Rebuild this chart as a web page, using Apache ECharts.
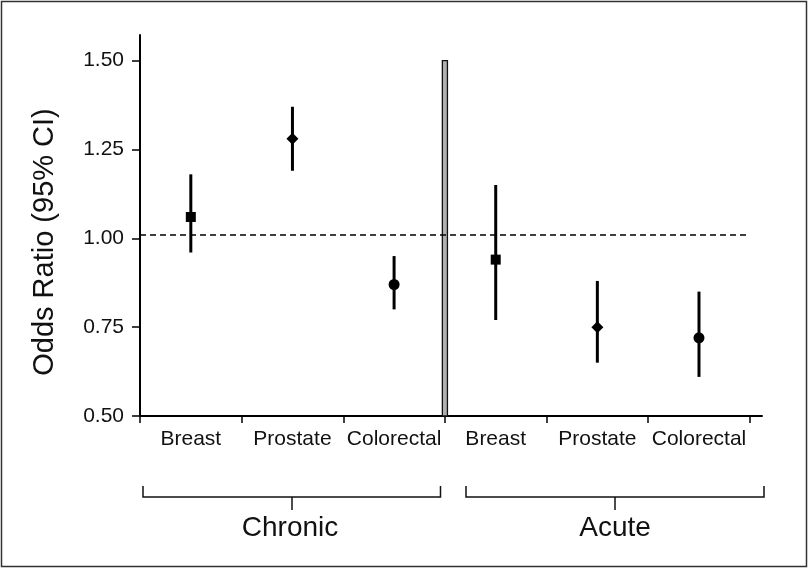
<!DOCTYPE html>
<html>
<head>
<meta charset="utf-8">
<script src="https://cdn.jsdelivr.net/npm/echarts@6/dist/echarts.min.js"></script>
<style>
html,body{margin:0;padding:0;background:#fff;}
#chart{width:809px;height:568px;}
</style>
</head>
<body>
<div id="chart"></div>
<script>
// ---- data ----
var categories = ['Breast', 'Prostate', 'Colorectal', 'Breast', 'Prostate', 'Colorectal'];
var groups = ['Chronic', 'Acute'];
var oddsRatio = [1.06, 1.28, 0.87, 0.94, 0.75, 0.72];
var ciLow = [0.96, 1.19, 0.80, 0.77, 0.65, 0.61];
var ciHigh = [1.18, 1.37, 0.95, 1.15, 0.88, 0.85];
var markerSymbols = ['rect', 'diamond', 'circle', 'rect', 'diamond', 'circle'];
var yTicks = [0.50, 0.75, 1.00, 1.25, 1.50];
var referenceValue = 1.01;
var yTitle = 'Odds Ratio (95% CI)';

var FONT = 'Liberation Sans, Arial, sans-serif';
var catCenters = categories.map(function (c, i) { return i + 0.5; });
var catBounds = categories.map(function (c, i) { return i; }).concat([categories.length]);

var chart = echarts.init(document.getElementById('chart'), null, {renderer: 'canvas'});

var symbolSizes = {rect: 10, diamond: 12, circle: 11};

var option = {
  animation: false,
  backgroundColor: '#fff',
  grid: {left: 140, right: 47, top: 35, bottom: 152, containLabel: false},
  xAxis: {
    type: 'value',
    min: 0,
    max: 6.12,
    splitLine: {show: false},
    axisLine: {show: true, onZero: false, lineStyle: {color: '#000', width: 2}},
    axisTick: {show: true, customValues: catBounds, length: 7, lineStyle: {color: '#000', width: 1.5}},
    axisLabel: {
      show: true,
      customValues: catCenters,
      margin: 13,
      color: '#111',
      fontFamily: FONT,
      fontSize: 21,
      formatter: function (v) { return categories[Math.floor(v)]; }
    }
  },
  yAxis: {
    type: 'value',
    min: 0.5,
    max: 1.572,
    splitLine: {show: false},
    axisLine: {show: true, onZero: false, lineStyle: {color: '#000', width: 2}},
    axisTick: {show: true, customValues: yTicks, length: 8, lineStyle: {color: '#000', width: 1.5}},
    axisLabel: {
      show: true,
      customValues: yTicks,
      margin: 16,
      color: '#111',
      fontFamily: FONT,
      fontSize: 21,
      formatter: function (v) { return v.toFixed(2); }
    }
  },
  series: [
    {
      type: 'custom',
      name: 'CI',
      z: 3,
      data: categories.map(function (c, i) { return [catCenters[i], ciLow[i], ciHigh[i]]; }),
      renderItem: function (params, api) {
        var x = api.value(0);
        var lo = api.coord([x, api.value(1)]);
        var hi = api.coord([x, api.value(2)]);
        return {
          type: 'line',
          shape: {x1: lo[0], y1: lo[1], x2: hi[0], y2: hi[1]},
          style: {stroke: '#000', lineWidth: 3}
        };
      },
      markLine: {
        silent: true,
        symbol: 'none',
        label: {show: false},
        lineStyle: {color: '#000', type: [6, 4], width: 1.5},
        data: [[{coord: [0, referenceValue]}, {coord: [categories.length, referenceValue]}]]
      },
      markArea: {
        silent: true,
        itemStyle: {color: '#b0b0b0', borderColor: '#111', borderWidth: 1.3},
        data: [[{coord: [2.975, yTicks[0]]}, {coord: [3.025, yTicks[yTicks.length - 1]]}]]
      }
    },
    {
      type: 'scatter',
      name: 'OR',
      z: 4,
      data: categories.map(function (c, i) {
        return {
          value: [catCenters[i], oddsRatio[i]],
          symbol: markerSymbols[i],
          symbolSize: symbolSizes[markerSymbols[i]]
        };
      }),
      itemStyle: {color: '#000', opacity: 1}
    }
  ],
  graphic: [
    {type: 'rect', shape: {x: 1.5, y: 1.5, width: 805, height: 565}, style: {fill: 'none', stroke: '#333', lineWidth: 1.5}, silent: true, z: 0},
    {type: 'text', x: 45, y: 242, rotation: Math.PI / 2, style: {text: yTitle, fill: '#111', font: '29px ' + FONT, textAlign: 'center', textVerticalAlign: 'middle'}},
    // Chronic bracket
    {type: 'polyline', shape: {points: [[143, 486], [143, 497], [440.5, 497], [440.5, 486]]}, style: {stroke: '#111', lineWidth: 1.5, fill: 'none'}},
    {type: 'line', shape: {x1: 292, y1: 497, x2: 292, y2: 510}, style: {stroke: '#111', lineWidth: 1.5}},
    {type: 'text', x: 290, y: 528, style: {text: groups[0], fill: '#111', font: '28px ' + FONT, textAlign: 'center', textVerticalAlign: 'middle'}},
    // Acute bracket
    {type: 'polyline', shape: {points: [[466, 486], [466, 497], [764, 497], [764, 486]]}, style: {stroke: '#111', lineWidth: 1.5, fill: 'none'}},
    {type: 'line', shape: {x1: 615, y1: 497, x2: 615, y2: 510}, style: {stroke: '#111', lineWidth: 1.5}},
    {type: 'text', x: 615, y: 528, style: {text: groups[1], fill: '#111', font: '28px ' + FONT, textAlign: 'center', textVerticalAlign: 'middle'}}
  ]
};

chart.setOption(option);
</script>
</body>
</html>
